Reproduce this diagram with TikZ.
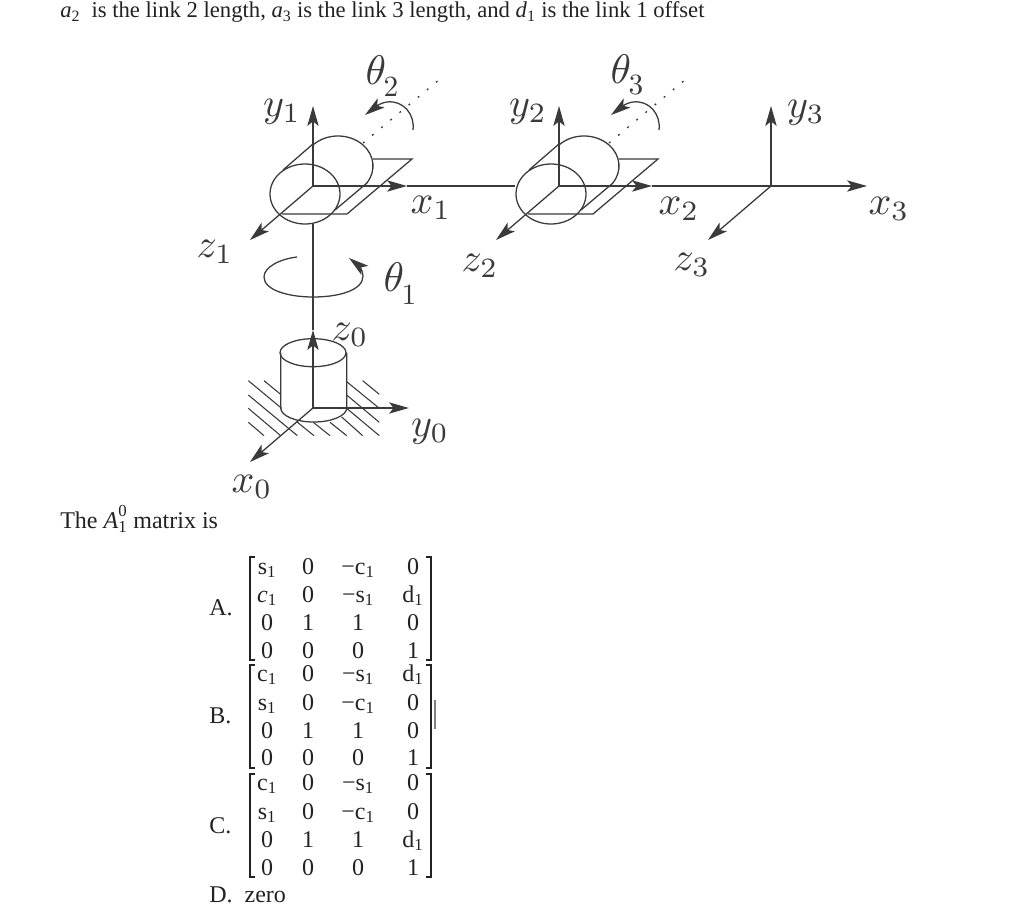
\documentclass[tikz,border=0pt]{standalone}
\usepackage[no-math]{fontspec}
\setmainfont{Liberation Serif}
\usetikzlibrary{arrows.meta}
\definecolor{ink}{HTML}{3A3A3A}
\definecolor{txt}{HTML}{222222}
\tikzset{
  line/.style={draw=ink,line width=0.95pt},
  arrowline/.style={line,-{Stealth[length=15pt,width=8.5pt,inset=3.5pt]}},
  dots/.style={draw=ink,line width=1pt,dash pattern=on 1.4pt off 7.5pt},
  hatch/.style={draw=ink,line width=0.8pt},
  lbl/.style={text=ink,scale=3,inner sep=0pt},
  thetalbl/.style={text=ink,scale=3.1,inner sep=0pt},
  thetasub/.style={text=ink,scale=2.2,inner sep=0pt},
  body/.style={text=txt,font=\fontsize{17}{20}\selectfont,inner sep=0pt},
  bodybig/.style={text=txt,font=\fontsize{18}{20}\selectfont,inner sep=0pt},
  cell/.style={text=txt,font=\fontsize{18}{20}\selectfont,inner sep=0pt},
  brk/.style={draw=txt,line width=1.2pt},
}
\newcommand{\cylinderjoint}[1]{%
  \begin{scope}[shift={(#1)}]
    \draw[line] (-31,28) -- (34,28) -- (99,-27) -- (60,-27);
    \draw[line] (-30,-16) -- (0,-42);
    \draw[line] (22,24) -- (54,-3);
    \draw[line] (25,-20) ++(-135:35 and 30) arc[start angle=-135,end angle=35,x radius=35,y radius=30];
    \draw[line] (-8,8) ellipse[x radius=35,y radius=30];
    \draw[dots] (50,-43) -- (127,-107);
  \end{scope}}
\newcommand{\rotarrow}[1]{%
  \begin{scope}[shift={(#1)}]
    \draw[arrowline] (100,-56) .. controls (102,-72) and (90,-86) .. (74,-84) .. controls (66,-83) and (60,-77) .. (52,-71);
  \end{scope}}
\begin{document}
\begin{tikzpicture}[x=0.75pt,y=-0.75pt]
\useasboundingbox (0,0) rectangle (1024,909);
\fill[white] (0,0) rectangle (1024,909);
% frames
\coordinate (o1) at (313,186);
\coordinate (o2) at (559,186);
\coordinate (o3) at (771,186);
\coordinate (o0) at (313,408);
\coordinate (y1tip) at (313,106);
\coordinate (y2tip) at (559,106);
\coordinate (y3tip) at (771,106);
\coordinate (x1tip) at (407,186);
\coordinate (x2tip) at (652,186);
\coordinate (x3tip) at (867,186);
\coordinate (z1tip) at (250,240);
\coordinate (z2tip) at (496,240);
\coordinate (z3tip) at (708,240);
\coordinate (gap2) at (515,186);
\coordinate (below1) at (313,224);
\coordinate (z0tip) at (313,330);
\coordinate (y0tip) at (409,408);
\coordinate (x0tip) at (250,462);
% hatching (in 3x crop coordinates)
\begin{scope}[shift={(190,290)},x=0.25pt,y=-0.25pt]
  \foreach \a/\b/\c/\d in {222/272/272/313,175/272/275/355,320/395/372/437,175/315/322/437,175/355/272/437,175/397/222/437,
    370/397/420/437,420/397/470/437,455/381/518/437,470/355/568/437,470/315/568/397,470/275/568/355,518/272/568/313}
    {\draw[hatch] (\a,\b) -- (\c,\d);}
\end{scope}
% base cylinder
\draw[line] (280.7,352.7) -- (280.7,408) arc[start angle=180,end angle=0,x radius=33,y radius=14] -- (346.7,352.7);
\draw[line] (313,352.7) ellipse[x radius=33,y radius=14];
\draw[line] (below1) -- (z0tip);
\draw[arrowline] (o0) -- (z0tip);
\draw[arrowline] (o0) -- (y0tip);
\draw[arrowline] (o0) -- (x0tip);
% joints
\cylinderjoint{o1}
\cylinderjoint{o2}
\rotarrow{o1}
\rotarrow{o2}
% axes
\draw[arrowline] (o1) -- (y1tip);
\draw[arrowline] (o1) -- (z1tip);
\draw[arrowline] (o1) -- (x1tip);
\draw[line] (x1tip) -- (gap2);
\draw[arrowline] (o2) -- (y2tip);
\draw[arrowline] (o2) -- (z2tip);
\draw[arrowline] (o2) -- (x2tip);
\draw[line] (x2tip) -- (o3);
\draw[arrowline] (o3) -- (y3tip);
\draw[arrowline] (o3) -- (z3tip);
\draw[arrowline] (o3) -- (x3tip);
% theta1 rotation
\coordinate (t1s) at (297,257);
\coordinate (t1e) at (349,258);
\draw[arrowline] (t1s) .. controls (280,259) and (264,267) .. (264,277) .. controls (264,290) and (288,297) .. (313,297) .. controls (340,297) and (363,290) .. (363,276) .. controls (363,270) and (358,265) .. (t1e);
% labels
\node[lbl] (ly1) at (282,112) {$y_1$};
\node[lbl] (lx1) at (431,208) {$x_1$};
\node[lbl] (lz1) at (215,252) {$z_1$};
\node[lbl] (ly2) at (528,112) {$y_2$};
\node[lbl] (lx2) at (679,209) {$x_2$};
\node[lbl] (lz2) at (480,266) {$z_2$};
\node[lbl] (ly3) at (806,113) {$y_3$};
\node[lbl] (lx3) at (889,209) {$x_3$};
\node[lbl] (lz3) at (692,265) {$z_3$};
\node[lbl] (lz0) at (350,335) {$z_0$};
\node[lbl] (ly0) at (430,432) {$y_0$};
\node[lbl] (lx0) at (252,487) {$x_0$};
\node[thetalbl] (th1) at (394,277) {$\theta$};
\node[thetasub] (th1s) at (409,295) {$1$};
\node[thetalbl] (th2) at (376,70) {$\theta$};
\node[thetasub] (th2s) at (391,87) {$2$};
\node[thetalbl] (th3) at (621,69) {$\theta$};
\node[thetasub] (th3s) at (636,85) {$3$};
% text
\node[body,anchor=base west] (head) at (60,18) {\textit{a}\textsubscript{2}\ \ is the link 2 length, \textit{a}\textsubscript{3} is the link 3 length, and \textit{d}\textsubscript{1} is the link 1 offset};
\node[bodybig,anchor=base west] (intro) at (60,528) {The \textit{A}\rlap{\raisebox{2pt}{\textsuperscript{0}}}\raisebox{-1pt}{\textsubscript{1}} matrix is};
\node[bodybig,anchor=base west] (la) at (209,615) {A.};
\node[bodybig,anchor=base west] (lb) at (209,723) {B.};
\node[bodybig,anchor=base west] (lc) at (209,833) {C.};
\node[bodybig,anchor=base west] (ld) at (209,902) {D.\ \ zero};
% matrices
\newcommand{\ci}[1]{#1\textsubscript{1}}
\foreach \n/\x/\y/\t in {
 a1/267/574/\ci{s},a2/308/574/0,a3/358/574/−\ci{c},a4/413/574/0,
 a5/267/602/\textit{c}\textsubscript{1},a6/308/602/0,a7/358/602/−\ci{s},a8/413/602/\ci{d},
 a9/267/630/0,a10/308/630/1,a11/358/630/1,a12/413/630/0,
 a13/267/658/0,a14/308/658/0,a15/358/658/0,a16/413/658/1,
 b1/267/681/\ci{c},b2/308/681/0,b3/358/681/−\ci{s},b4/413/681/\ci{d},
 b5/267/710/\ci{s},b6/308/710/0,b7/358/710/−\ci{c},b8/413/710/0,
 b9/267/738/0,b10/308/738/1,b11/358/738/1,b12/413/738/0,
 b13/267/765/0,b14/308/765/0,b15/358/765/0,b16/413/765/1,
 c1/267/790/\ci{c},c2/308/790/0,c3/358/790/−\ci{s},c4/413/790/0,
 c5/267/819/\ci{s},c6/308/819/0,c7/358/819/−\ci{c},c8/413/819/0,
 c9/267/847/0,c10/308/847/1,c11/358/847/1,c12/413/847/\ci{d},
 c13/267/875/0,c14/308/875/0,c15/358/875/0,c16/413/875/1}
 {\node[cell,anchor=base] (\n) at (\x,\y) {\t};}
\foreach \t/\b in {557/660,665/768,774/877}{
  \draw[brk] (255,\t) -- (250,\t) -- (250,\b) -- (255,\b);
  \draw[brk] (426,\t) -- (431,\t) -- (431,\b) -- (426,\b);
}
\draw[draw=gray,line width=1pt] (435,700) -- (435,729);
\end{tikzpicture}
\end{document}
